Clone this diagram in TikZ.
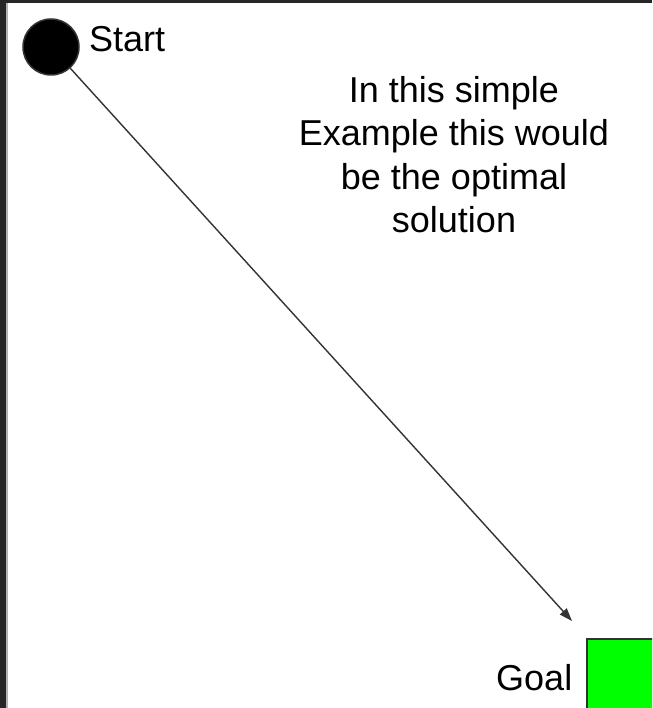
\documentclass[tikz,border=0pt]{standalone}
\usepackage{fontspec}
\setmainfont{Liberation Sans}
\usetikzlibrary{arrows.meta}
\definecolor{frame}{HTML}{262626}
\definecolor{edge}{HTML}{333333}
\definecolor{goalgreen}{HTML}{00FF00}
\tikzset{
  lbl/.style={font=\fontsize{36}{43.5}\selectfont, inner sep=0pt},
  startdot/.style={circle, fill=black, draw=edge, line width=1.5pt, minimum size=56pt, inner sep=0pt},
  goalbox/.style={rectangle, fill=goalgreen, draw=edge, line width=2pt, minimum size=90pt, inner sep=0pt},
  path/.style={draw=edge, line width=1.4pt, -{Triangle[length=13pt,width=9pt]}}
}
\begin{document}
\begin{tikzpicture}[x=1pt,y=-1pt]
  \useasboundingbox (0,0) rectangle (652,708);
  \clip (0,0) rectangle (652,708);
  \fill[white] (0,0) rectangle (652,708);
  % window frame
  \fill[frame] (0,0) rectangle (652,3);
  \fill[frame] (0,0) rectangle (6,708);
  \fill[gray!60] (6,3) rectangle (7.5,708);
  % start and goal
  \node[startdot] (start) at (51,47) {};
  \node[lbl, anchor=base west] (startlbl) at (89,52) {Start};
  \node[goalbox, anchor=north west] (goal) at (586,638) {};
  \node[lbl, anchor=base west] (goallbl) at (496,690) {Goal};
  \coordinate (tip) at (572,621);
  \draw[path] (start) -- (tip);
  % note
  \node[lbl, align=center, anchor=base] (note) at (454,232.7)
    {In this simple\\Example this would\\be the optimal\\solution};
\end{tikzpicture}
\end{document}
